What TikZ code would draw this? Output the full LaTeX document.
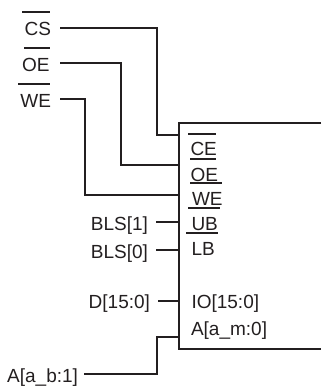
\documentclass[tikz,border=0pt]{standalone}
\usepackage{fontspec}
\setmainfont{Liberation Sans}
\definecolor{ink}{HTML}{231F20}
\tikzset{
  wire/.style={draw=ink,line width=2pt,line cap=butt,line join=miter},
  bar/.style={draw=ink,line width=2pt},
  sig/.style={inner sep=0pt,outer sep=0pt,text=ink,font=\fontsize{19}{22}\selectfont},
  lft/.style={sig,anchor=base east},
  rgt/.style={sig,anchor=base west}
}
\begin{document}
\begin{tikzpicture}[x=1pt,y=-1pt]
\useasboundingbox (0,0) rectangle (321,387);
% outer signal labels
\node[lft] (cs) at (51,36) {CS};
\node[lft] (oe) at (49.5,72) {OE};
\node[lft] (we) at (51,108) {WE};
\node[lft] (bls1) at (148,230) {BLS[1]};
\node[lft] (bls0) at (148,258) {BLS[0]};
\node[lft] (d) at (150,308) {D[15:0]};
\node[lft] (a) at (78,382.7) {A[a\_b:1]};
% pin labels
\node[rgt] (pce) at (190.5,155.6) {CE};
\node[rgt] (poe) at (190.5,181.7) {OE};
\node[rgt] (pwe) at (192,205) {WE};
\node[rgt] (pub) at (191.5,230) {UB};
\node[rgt] (plb) at (191.5,255.7) {LB};
\node[rgt] (pio) at (191.5,308) {IO[15:0]};
\node[rgt] (pa) at (191,335) {A[a\_m:0]};
% connector ends
\coordinate (csS) at (60,28);
\coordinate (oeS) at (60,63);
\coordinate (weS) at (60,99);
\coordinate (bls1S) at (156,222);
\coordinate (bls0S) at (156,250);
\coordinate (dS) at (158,301);
\coordinate (aS) at (84,374);
\coordinate (csE) at (179,135);
\coordinate (oeE) at (179,165);
\coordinate (weE) at (179,195);
\coordinate (bls1E) at (179,222);
\coordinate (bls0E) at (179,250);
\coordinate (dE) at (179,301);
\coordinate (aE) at (179,337);
\coordinate (boxTR) at (321,123);
\coordinate (boxTL) at (179,123);
\coordinate (boxBL) at (179,349);
\coordinate (boxBR) at (321,349);
% box
\draw[wire] (boxTR) -- (boxTL) -- (boxBL) -- (boxBR);
% connectors
\draw[wire] (csS) -- (157,28) -- (157,135) -- (csE);
\draw[wire] (oeS) -- (121,63) -- (121,165) -- (oeE);
\draw[wire] (weS) -- (85,99) -- (85,195) -- (weE);
\draw[wire] (bls1S) -- (bls1E);
\draw[wire] (bls0S) -- (bls0E);
\draw[wire] (dS) -- (dE);
\draw[wire] (aS) -- (157,374) -- (157,337) -- (aE);
% overbars
\draw[bar] (22,12) -- (50,12);
\draw[bar] (24,48) -- (50,48);
\draw[bar] (18,84) -- (50,84);
\draw[bar] (188,134) -- (216,134);
\draw[bar] (190,159) -- (216,159);
\draw[bar] (190,183) -- (222,183);
\draw[bar] (188,208) -- (220,208);
\draw[bar] (186,233) -- (218,233);
\end{tikzpicture}
\end{document}
